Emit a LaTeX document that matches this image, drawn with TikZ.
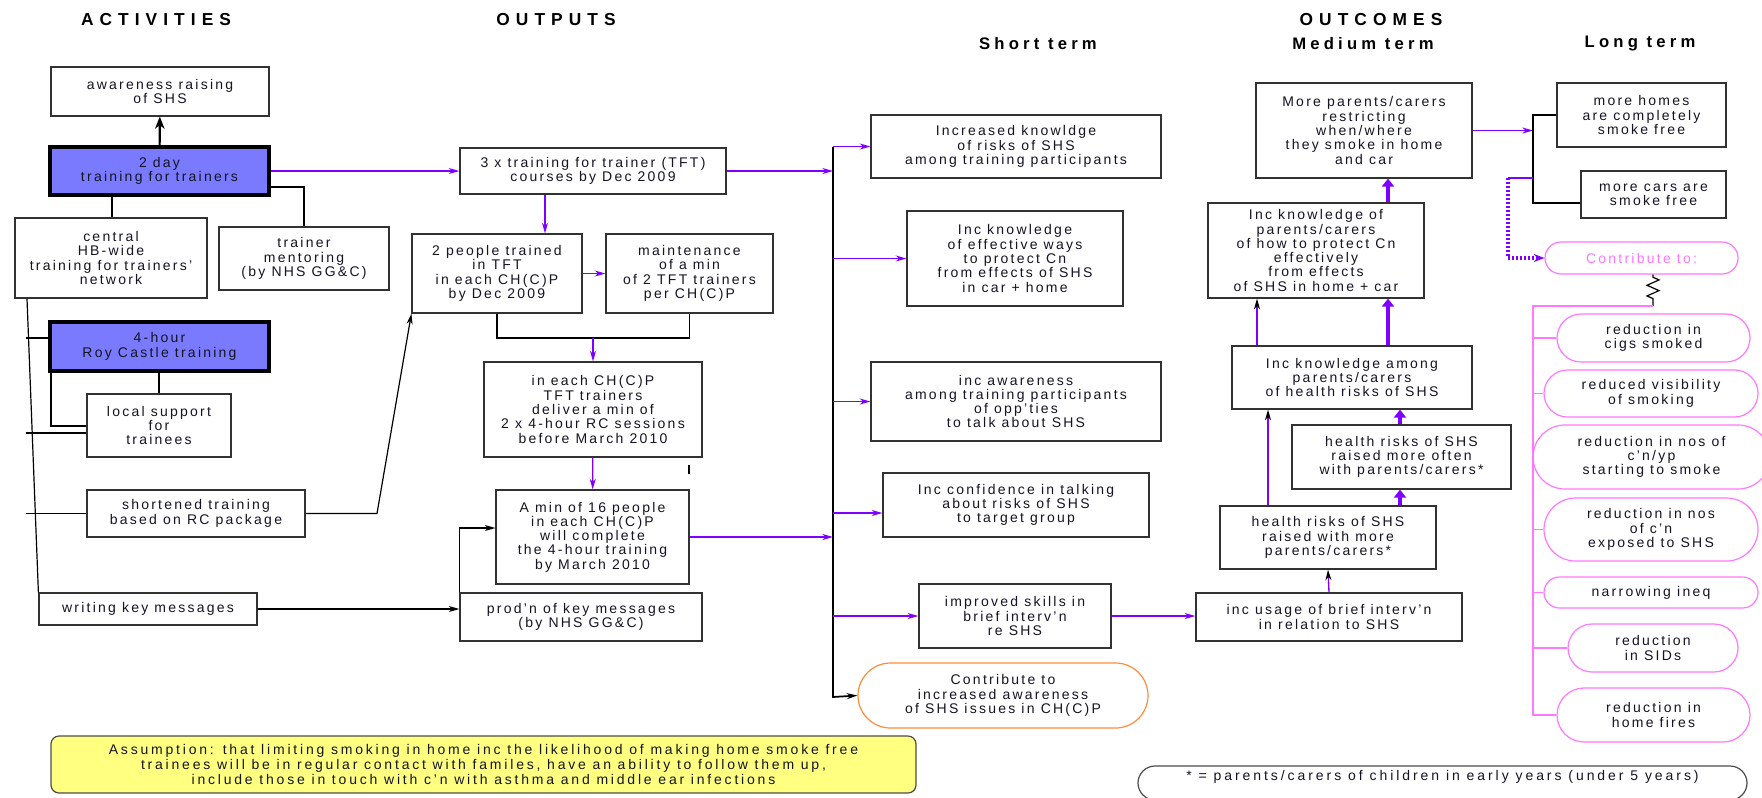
\documentclass[tikz,border=0pt]{standalone}
\usepackage{fontspec}
\setmainfont[LetterSpace=16]{Liberation Sans}
\usetikzlibrary{arrows.meta,decorations.pathmorphing,shapes.misc}

\definecolor{actblue}{RGB}{122,122,255}
\definecolor{purp}{RGB}{128,0,255}
\definecolor{pinkc}{RGB}{255,120,255}
\definecolor{orangec}{RGB}{255,140,60}
\definecolor{notey}{RGB}{255,255,128}
\definecolor{txt}{RGB}{20,20,35}
\definecolor{edge}{RGB}{50,50,50}

\tikzset{
  sz/.style 2 args={minimum width=#1*0.75pt, minimum height=#2*0.75pt},
  box/.style={draw=edge, line width=0.9pt, fill=white, align=center, inner sep=0pt,
    text=txt, font=\fontsize{10.5}{10.7}\selectfont},
  actbox/.style={box, fill=actblue, draw=black, line width=3pt},
  oval/.style={box, rounded rectangle},
  pinkoval/.style={oval, draw=pinkc},
  head/.style={font=\fontsize{13}{15}\selectfont\bfseries\addfontfeature{LetterSpace=35}},
  subhead/.style={font=\fontsize{12.5}{14}\selectfont\bfseries\addfontfeature{LetterSpace=25}},
  ln/.style={draw=black, line width=0.9pt},
  barr/.style={ln, -{Stealth[length=8pt,width=4.5pt,inset=2.5pt]}},
  parr/.style={draw=purp, line width=1pt, -{Stealth[length=8pt,width=4.5pt,inset=2.5pt]}},
  tarr/.style={parr, -{Stealth[length=8pt,width=4.5pt,inset=2.5pt,color=black]}},
  farr/.style={draw=purp, line width=3pt, -{Triangle[length=6pt,width=9pt]}},
  pinkln/.style={draw=pinkc, line width=1pt},
}

\begin{document}
\begin{tikzpicture}[x=0.75pt,y=-0.75pt]
\useasboundingbox (0,0) rectangle (1762,797);
\fill[white] (0,0) rectangle (1762,797);

% headings
\node[head] (hact) at (156,20) {ACTIVITIES};
\node[head] (hout) at (556,20) {OUTPUTS};
\node[head] (hoc) at (1371,20) {OUTCOMES};
\node[subhead] (hshort) at (1038,44) {Short term};
\node[subhead] (hmed) at (1363,44) {Medium term};
\node[subhead] (hlong) at (1640,44) {Long term};

% activities
\node[box, sz={218}{49}] (aware) at (160,91.5) {awareness raising\\of SHS};
\node[actbox, sz={219}{48}] (tday) at (159.5,171) {2 day\\training for trainers};
\node[box, sz={192}{80}] (central) at (111,258) {central\\HB-wide\\training for trainers'\\network};
\node[box, sz={170}{63}] (mentor) at (304,258.5) {trainer\\mentoring\\(by NHS GG\&C)};
\node[actbox, sz={219}{49}] (fourhr) at (159.5,346.5) {4-hour\\Roy Castle training};
\node[box, sz={144}{63}] (local) at (159,425.5) {local support\\for\\trainees};
\node[box, sz={218}{47}] (shortened) at (196,513.5) {shortened training\\based on RC package};
\node[box, sz={218}{32}] (writing) at (148,609) {writing key messages};

% outputs
\node[box, sz={266}{46}] (tft) at (593,171) {3 x training for trainer (TFT)\\courses by Dec 2009};
\node[box, sz={170}{79}] (twopeople) at (497,273.5) {2 people trained\\in TFT\\in each CH(C)P\\by Dec 2009};
\node[box, sz={167}{79}] (maint) at (689.5,273.5) {maintenance\\of a min\\of 2 TFT trainers\\per CH(C)P};
\node[box, sz={218}{95}] (ineach) at (593,409.5) {in each CH(C)P\\TFT trainers\\deliver a min of\\2 x 4-hour RC sessions\\before March 2010};
\node[box, sz={193}{94}] (amin) at (592.5,537) {A min of 16 people\\in each CH(C)P\\will complete\\the 4-hour training\\by March 2010};
\node[box, sz={242}{48}] (prodn) at (581,617) {prod'n of key messages\\(by NHS GG\&C)};

% short term
\node[box, sz={290}{63}] (incrk) at (1016,146.5) {Increased knowldge\\of risks of SHS\\among training participants};
\node[box, sz={216}{95}] (incke) at (1015,258.5) {Inc knowledge\\of effective ways\\to protect Cn\\from effects of SHS\\in car + home};
\node[box, sz={290}{79}] (incaw) at (1016,401.5) {inc awareness\\among training participants\\of opp'ties\\to talk about SHS};
\node[box, sz={266}{64}] (incconf) at (1016,505) {Inc confidence in talking\\about risks of SHS\\to target group};
\node[box, sz={192}{64}] (improved) at (1015,616) {improved skills in\\brief interv'n\\re SHS};
\node[oval, draw=orangec, sz={290}{65}] (contrib) at (1003,695.5) {Contribute to\\increased awareness\\of SHS issues in CH(C)P};

% medium term
\node[box, sz={216}{95}] (moreparents) at (1364,130.5) {More parents/carers\\restricting\\when/where\\they smoke in home\\and car};
\node[box, sz={216}{95}] (incparents) at (1316,250.5) {Inc knowledge of\\parents/carers\\of how to protect Cn\\effectively\\from effects\\of SHS in home + car};
\node[box, sz={240}{63}] (among) at (1352,377.5) {Inc knowledge among\\parents/carers\\of health risks of SHS};
\node[box, sz={219}{64}] (often) at (1401.5,457) {health risks of SHS\\raised more often\\with parents/carers*};
\node[box, sz={216}{63}] (withmore) at (1328,537.5) {health risks of SHS\\raised with more\\parents/carers*};
\node[box, sz={266}{48}] (usage) at (1329,617) {inc usage of brief interv'n\\in relation to SHS};

% long term
\node[box, sz={169}{64}] (homes) at (1641.5,115) {more homes\\are completely\\smoke free};
\node[box, sz={145}{47}] (cars) at (1653.5,194.5) {more cars are\\smoke free};
\node[pinkoval, text=pinkc, sz={193}{32}] (contribto) at (1641.5,258) {Contribute to:};
\node[pinkoval, sz={193}{48}] (cigs) at (1653.5,338) {reduction in\\cigs smoked};
\node[pinkoval, sz={214}{47}] (visib) at (1651,393.5) {reduced visibility\\of smoking};
\node[pinkoval, sz={237}{64}] (nosyp) at (1651.5,457) {reduction in nos of\\c'n/yp\\starting to smoke};
\node[pinkoval, sz={214}{63}] (exposed) at (1651,529.5) {reduction in nos\\of c'n\\exposed to SHS};
\node[pinkoval, sz={214}{31}] (narrowing) at (1651,592.5) {narrowing ineq};
\node[pinkoval, sz={170}{48}] (sids) at (1653,648) {reduction\\in SIDs};
\node[pinkoval, sz={193}{54}] (fires) at (1653.5,715) {reduction in\\home fires};

% notes
\node[box, fill=notey, draw=black!70, rounded corners=6pt, sz={865}{57},
  font=\fontsize{10.5}{10.9}\selectfont\addfontfeature{LetterSpace=20}] (assume) at (483.5,764.5)
  {Assumption: that limiting smoking in home inc the likelihood of making home smoke free\\
   trainees will be in regular contact with familes, have an ability to follow them up,\\
   include those in touch with c'n with asthma and middle ear infections};
\node[oval, draw=black!70, sz={609}{34}, text height=7pt, text depth=11pt,
  font=\fontsize{10.5}{12}\selectfont\addfontfeature{LetterSpace=21}] (foot) at (1442.5,783)
  {* = parents/carers of children in early years (under 5 years)};

% activity links
\draw[barr, line width=1.6pt, -{Stealth[length=9pt,width=7pt,inset=2.5pt]}] (tday) -- (aware);
\draw[parr] (tday.east) -- (tft.west);
\draw[ln, line width=1.3pt] (112,0 |- tday.south) -- (112,0 |- central.north);
\draw[ln, line width=1.3pt] (tday.east |- 0,187) -| (mentor.north);
\draw[ln] (27,0 |- central.south) -- (writing.north west);
\draw[ln] (26,338) -- (fourhr.west |- 0,338);
\draw[ln] (26,433) -- (local.west |- 0,433);
\draw[ln] (26,0 |- shortened.west) -- (shortened.west);
\draw[ln, line width=1.3pt] (159,0 |- fourhr.south) -- (local.north);
\draw[ln] (51,0 |- fourhr.south) |- (local.west |- 0,426);
\draw[barr] (shortened.east) -- (377,0 |- shortened.east) -- (twopeople.south west);
\draw[barr] (writing.east) -- (prodn.west |- writing.east);
\draw[barr] (prodn.north west) |- (amin.west |- 0,528);

% output links
\coordinate (join) at (593,338);
\draw[parr] (545,0 |- tft.south) -- (545,0 |- twopeople.north);
\draw[parr] (twopeople.east) -- (maint.west);
\draw[ln] (twopeople.south) |- (join) -| (maint.south);
\draw[parr] (join) -- (ineach.north);
\draw[parr] (ineach) -- (amin);
\draw[ln] (689,465) -- (689,474);

% short term bus
\coordinate (bustop) at (833,147);
\coordinate (busbot) at (833,697);
\draw[ln] (bustop) -- (busbot);
\draw[barr, line width=1.3pt] (improved.west -| bustop) -- (busbot) -- (contrib.west);
\draw[parr] (tft.east) -- (tft.east -| bustop);
\draw[parr] (amin.east) -- (amin.east -| bustop);
\draw[parr] (incrk.west -| bustop) -- (incrk.west);
\draw[parr] (incke.west -| bustop) -- (incke.west);
\draw[parr] (incaw.west -| bustop) -- (incaw.west);
\draw[parr] (bustop |- 0,513) -- (incconf.west |- 0,513);
\draw[parr] (improved.west -| bustop) -- (improved.west);
\draw[parr] (improved.east) -- (usage.west |- improved.east);

% medium term links
\draw[tarr] (usage.north) -- (withmore.south);
\draw[tarr] (1268,0 |- withmore.north) -- (1268,0 |- among.south);
\draw[farr] (1400,0 |- withmore.north) -- (1400,0 |- often.south);
\draw[farr] (1400,0 |- often.north) -- (1400,0 |- among.south);
\draw[tarr] (1257,0 |- among.north) -- (1257,0 |- incparents.south);
\draw[farr] (1388,0 |- among.north) -- (1388,0 |- incparents.south);
\draw[farr] (1388,0 |- incparents.north) -- (1388,0 |- moreparents.south);

% long term links
\draw[parr] (moreparents.east) -- (1533,0 |- moreparents.east);
\draw[ln] (homes.west) -| (1533,203) -- (cars.west |- 0,203);
\draw[draw=purp, line width=1pt] (1533,178) -- (1508,178);
\draw[draw=purp, line width=2.5pt, dash pattern=on 1.5pt off 1.5pt,
  -{Stealth[length=8pt,width=6pt,inset=2.5pt]}] (1508,178) |- (contribto.west);
\draw[black, line width=0.9pt, decorate,
  decoration={zigzag, amplitude=4.5pt, segment length=8pt, pre length=2pt, post length=2pt}]
  (contribto.south -| 1653,0) -- (1653,306);
\draw[pinkln] (1653,306) -| (fires.west -| 1533,0) -- (fires.west);
\foreach \n in {cigs,visib,exposed,narrowing,sids}
  \draw[pinkln] (\n.west -| 1533,0) -- (\n.west);
\end{tikzpicture}
\end{document}
